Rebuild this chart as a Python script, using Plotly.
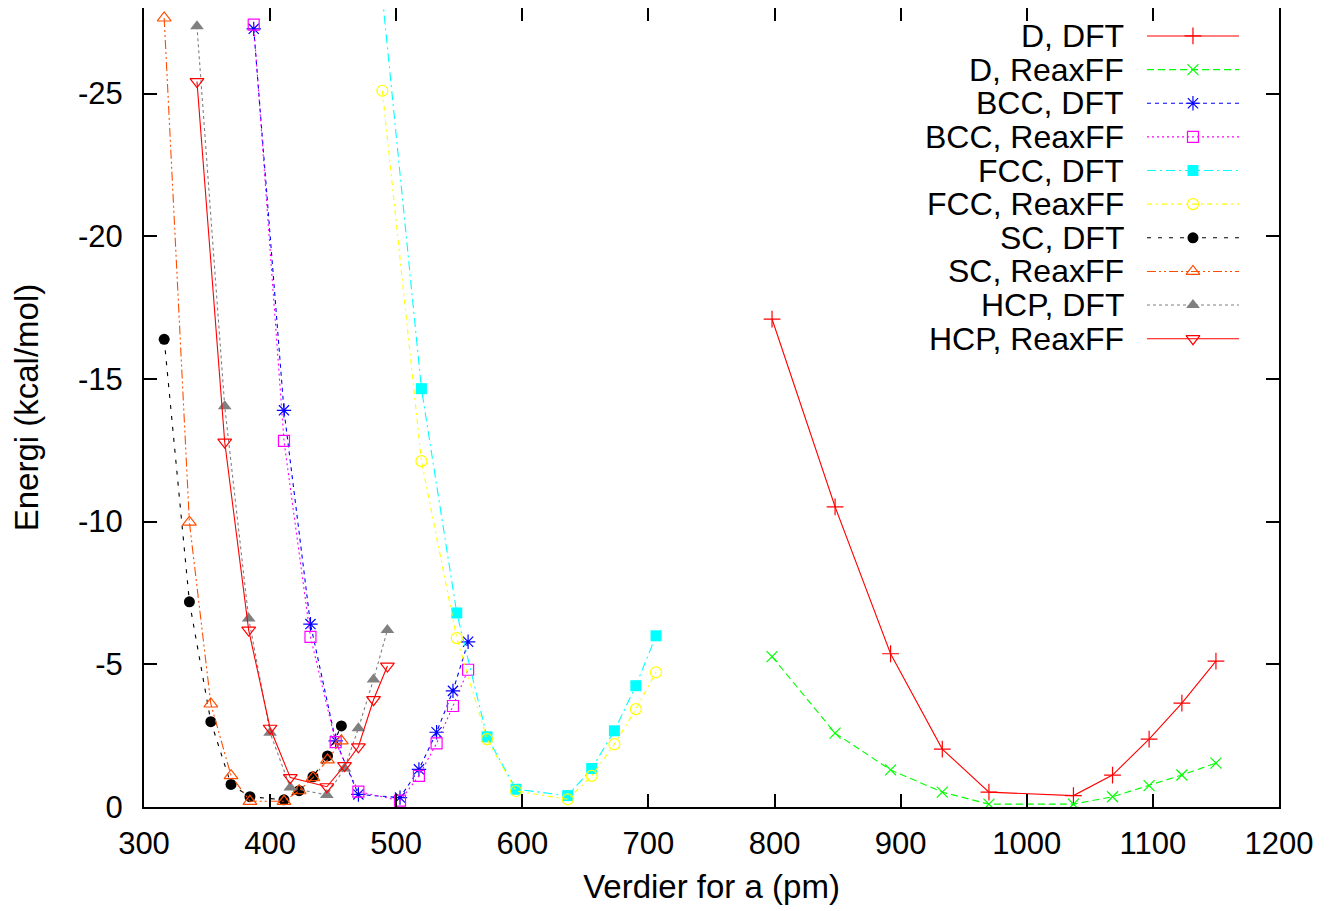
import plotly.graph_objects as go

# ---------------- data ----------------
D_a = [798, 848, 892, 933, 970, 1037, 1068, 1097, 1123, 1150]
D_dft = [-17.1, -10.52, -5.37, -2.03, -0.52, -0.40, -1.12, -2.38, -3.64, -5.11]
D_reax = [-5.27, -2.59, -1.30, -0.52, -0.10, -0.10, -0.36, -0.75, -1.12, -1.54]

BCC_a = [387, 411, 432, 452, 470, 503, 518, 532, 545, 557]
BCC_dft = [-27.27, -13.90, -6.41, -2.32, -0.44, -0.33, -1.32, -2.62, -4.07, -5.79]
BCC_reax = [-27.42, -12.83, -5.96, -2.27, -0.54, -0.22, -1.09, -2.23, -3.54, -4.81]

FCC_a = [489, 520, 548, 572, 595, 636, 655, 673, 690, 706]
FCC_dft = [-28.4, -14.66, -6.80, -2.46, -0.62, -0.40, -1.35, -2.67, -4.25, -6.00]
FCC_reax = [-25.1, -12.12, -5.92, -2.38, -0.56, -0.27, -1.09, -2.20, -3.43, -4.72]

SC_a = [316, 336, 353, 369, 384, 411, 423, 434, 445.5, 456.5]
SC_dft = [-16.39, -7.19, -2.99, -0.79, -0.36, -0.25, -0.57, -1.06, -1.79, -2.84]
SC_reax = [-27.65, -9.98, -3.61, -1.10, -0.20, -0.20, -0.57, -1.03, -1.65, -2.32]

HCP_a = [342, 364, 383, 400, 416, 445, 459, 470, 482, 493]
HCP_dft = [-27.36, -14.04, -6.61, -2.60, -0.68, -0.42, -1.35, -2.76, -4.47, -6.20]
HCP_reax = [-25.42, -12.79, -6.20, -2.76, -1.03, -0.71, -1.45, -2.11, -3.76, -4.94]

series_names = ["D, DFT", "D, ReaxFF", "BCC, DFT", "BCC, ReaxFF", "FCC, DFT",
                "FCC, ReaxFF", "SC, DFT", "SC, ReaxFF", "HCP, DFT", "HCP, ReaxFF"]
series_x = [D_a, D_a, BCC_a, BCC_a, FCC_a, FCC_a, SC_a, SC_a, HCP_a, HCP_a]
series_y = [D_dft, D_reax, BCC_dft, BCC_reax, FCC_dft, FCC_reax,
            SC_dft, SC_reax, HCP_dft, HCP_reax]

x_ticks = [300, 400, 500, 600, 700, 800, 900, 1000, 1100, 1200]
y_ticks = [0, -5, -10, -15, -20, -25]
y_tick_labels = ["0", "-5", "-10", "-15", "-20", "-25"]

# ---------------- styles ----------------
styles = [
    dict(color="#ff0000", dash="solid", symbol="cross-thin-open", size=12, fill=False, lw=1.1),
    dict(color="#00ff00", dash="7px,4px", symbol="x-thin-open", size=11, fill=False, lw=1.1),
    dict(color="#0000ff", dash="4px,4px", symbol="asterisk-open", size=12, fill=False, lw=1.1),
    dict(color="#ff00ff", dash="2px,3px", symbol="square-open", size=11, fill=False, lw=1.1),
    dict(color="#00ffff", dash="9px,4px,2px,4px", symbol="square", size=11, fill=True, lw=1.1),
    dict(color="#ffff00", dash="5px,4px,2px,4px", symbol="circle-open", size=11, fill=False, lw=1.1),
    dict(color="#000000", dash="4px,7px", symbol="circle", size=11, fill=True, lw=1.1),
    dict(color="#ff4d00", dash="9px,3px,2px,3px,2px,3px", symbol="triangle-up-open", size=12, fill=False, lw=1.1),
    dict(color="#808080", dash="3px,3px", symbol="triangle-up", size=12, fill=True, lw=1.1),
    dict(color="#ff0000", dash="solid", symbol="triangle-down-open", size=12, fill=False, lw=1.1),
]

FONT = "Liberation Sans, Arial, Helvetica, sans-serif"
FS_TICK = 31
FS_TEXT = 33
FS_KEY = 32

fig = go.Figure()

def marker_for(st):
    if st["fill"]:
        return dict(symbol=st["symbol"], size=st["size"], color=st["color"],
                    line=dict(width=0))
    return dict(symbol=st["symbol"], size=st["size"], color=st["color"],
                line=dict(color=st["color"], width=1.2))

for name, xs, ys, st in zip(series_names, series_x, series_y, styles):
    fig.add_trace(go.Scatter(
        x=xs, y=ys, name=name, mode="lines+markers",
        line=dict(color=st["color"], width=st["lw"], dash=st["dash"]),
        marker=marker_for(st), showlegend=False, cliponaxis=True,
    ))

# ---------------- custom gnuplot-style legend (key at right of text) ----------------
L_TEXT_X = 0.8643
L_X0, L_XM, L_X1 = 0.8837, 0.9242, 0.9648
L_Y0 = 0.9650
L_DY = 0.0421
for i, (name, st) in enumerate(zip(series_names, styles)):
    yy = L_Y0 - i * L_DY
    fig.add_trace(go.Scatter(
        x=[L_X0, L_X1], y=[yy, yy], mode="lines", xaxis="x2", yaxis="y2",
        line=dict(color=st["color"], width=st["lw"], dash=st["dash"]),
        showlegend=False, hoverinfo="skip"))
    fig.add_trace(go.Scatter(
        x=[L_XM], y=[yy], mode="markers", xaxis="x2", yaxis="y2",
        marker=marker_for(st), showlegend=False, hoverinfo="skip"))
    fig.add_annotation(xref="paper", yref="paper", x=L_TEXT_X, y=yy,
                       text=name, showarrow=False, xanchor="right", yanchor="middle",
                       height=32, valign="middle", borderpad=0,
                       font=dict(family=FONT, size=FS_KEY, color="black"))

axis_common = dict(showline=True, linecolor="black", linewidth=2, mirror="ticks",
                   ticks="inside", ticklen=13, tickwidth=2, tickcolor="black",
                   showgrid=False, zeroline=False, automargin=False,
                   tickfont=dict(family=FONT, size=FS_TICK, color="black"))

fig.update_layout(
    width=1338, height=911,
    margin=dict(l=136, r=67, t=0, b=112),
    paper_bgcolor="white", plot_bgcolor="white",
    font=dict(family=FONT, size=FS_TEXT, color="black"),
    xaxis=dict(range=[300, 1200], tickvals=x_ticks,
               title=dict(text="Verdier for a (pm)", font=dict(family=FONT, size=FS_TEXT), standoff=15),
               ticklabelstandoff=8, **axis_common),
    yaxis=dict(range=[0, -28], tickvals=y_ticks, ticktext=y_tick_labels,
               title=dict(text="Energi (kcal/mol)", font=dict(family=FONT, size=FS_TEXT), standoff=32),
               ticklabelstandoff=13, **axis_common),
    xaxis2=dict(overlaying="x", range=[0, 1], visible=False, anchor="y2"),
    yaxis2=dict(overlaying="y", range=[0, 1], visible=False, anchor="x2"),
)

fig.write_html("out.html")
